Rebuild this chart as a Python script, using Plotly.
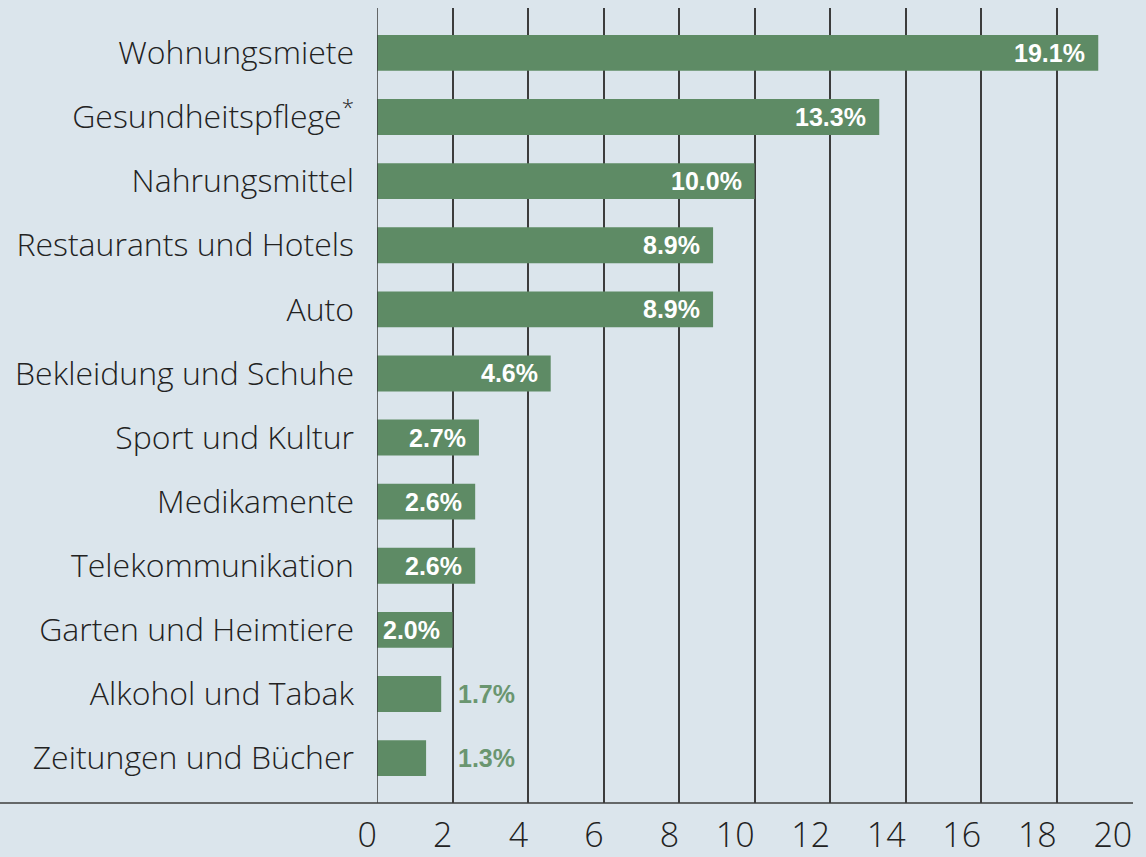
import math
import plotly.graph_objects as go

categories = [
    "Wohnungsmiete",
    "Gesundheitspflege<sup>*</sup>",
    "Nahrungsmittel",
    "Restaurants und Hotels",
    "Auto",
    "Bekleidung und Schuhe",
    "Sport und Kultur",
    "Medikamente",
    "Telekommunikation",
    "Garten und Heimtiere",
    "Alkohol und Tabak",
    "Zeitungen und Bücher",
]
values = [19.1, 13.3, 10.0, 8.9, 8.9, 4.6, 2.7, 2.6, 2.6, 2.0, 1.7, 1.3]
x_ticks = [0, 2, 4, 6, 8, 10, 12, 14, 16, 18, 20]
TICK_STEP = 2

BG = "#dbe5ec"
BAR = "#5e8b65"
TEXT = "#222222"
GRID = "#3c3c3c"
FONT = "Open Sans"

fig = go.Figure()
fig.add_trace(go.Bar(
    x=values, y=categories, orientation="h",
    marker=dict(color=BAR, line=dict(width=0)),
    hoverinfo="skip",
))

annotations = []
for c, v in zip(categories, values):
    label = f"{v:.1f}%"
    if v >= 2.0:
        annotations.append(dict(
            x=v, y=c, xref="x", yref="y", text=label, showarrow=False,
            xanchor="right", yanchor="middle", xshift=-11,
            font=dict(family="Liberation Sans", size=25, color="white", weight="bold"),
        ))
    else:
        # small values: label placed just past the next gridline
        next_grid = math.ceil(v / TICK_STEP) * TICK_STEP
        annotations.append(dict(
            x=next_grid, y=c, xref="x", yref="y", text=label, showarrow=False,
            xanchor="left", yanchor="middle", xshift=3,
            font=dict(family="Liberation Sans", size=25, color="#6a9670", weight="bold"),
        ))

shapes = [
    dict(type="line", xref="x", yref="paper", x0=0, x1=0, y0=0, y1=1,
         line=dict(color=GRID, width=1.5), layer="above"),
    dict(type="line", xref="paper", yref="paper", x0=-0.5, x1=1, y0=0, y1=0,
         line=dict(color=GRID, width=1.5), layer="above"),
]

fig.update_layout(
    width=1146, height=857,
    margin=dict(l=377, r=13, t=8, b=54, autoexpand=False),
    paper_bgcolor=BG, plot_bgcolor=BG,
    bargap=0.44,
    showlegend=False,
    annotations=annotations,
    shapes=shapes,
    xaxis=dict(
        range=[0, 20.02], tickvals=x_ticks, ticktext=[str(t) for t in x_ticks],
        showgrid=True, gridcolor=GRID, gridwidth=1.5, zeroline=False,
        showline=False, ticks="", ticklabelposition="outside left",
        ticklabelstandoff=9, automargin=False,
        tickfont=dict(family=FONT, size=34, color=TEXT, weight=300),
    ),
    yaxis=dict(
        type="category", range=[11.7, -0.7], showgrid=False, zeroline=False,
        showline=False, ticks="", ticklabelstandoff=22, automargin=False,
        tickfont=dict(family=FONT, size=32, color=TEXT, weight=300),
    ),
)

fig.write_html(
    "out.html",
    config={"displayModeBar": False},
    post_script="document.body.style.margin='0';document.body.style.padding='0';",
)
